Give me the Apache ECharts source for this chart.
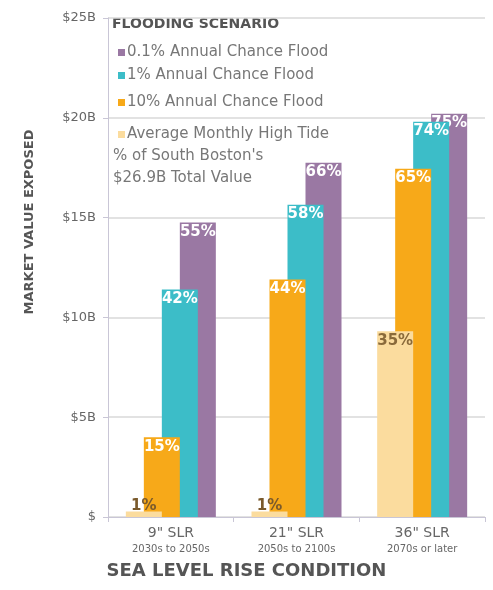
<!DOCTYPE html>
<html>
<head>
<meta charset="utf-8">
<script src="https://cdn.jsdelivr.net/npm/echarts@6/dist/echarts.min.js"></script>
<style>
  html, body { margin: 0; padding: 0; background: #fff; }
  #chart { width: 493px; height: 590px; }
</style>
</head>
<body>
<div id="chart"></div>
<script>
// sea level rise conditions (x axis)
const conditions = ['9" SLR', '21" SLR', '36" SLR'];
const periods = ['2030s to 2050s', '2050s to 2100s', '2070s or later'];

// market value exposed, $B
const tideValues = [0.27, 0.27, 9.3];
const flood10Values = [4.0, 11.9, 17.45];
const flood1Values = [11.4, 15.65, 19.8];
const flood01Values = [14.75, 17.75, 20.2];

// % of South Boston's $26.9B total value
const tidePct = ['1%', '1%', '35%'];
const flood10Pct = ['15%', '44%', '65%'];
const flood1Pct = ['42%', '58%', '74%'];
const flood01Pct = ['55%', '66%', '75%'];

const yTicks = [0, 5, 10, 15, 20, 25];

const FONT = '"DejaVu Sans", sans-serif';
const GRAY = '#666';

const chart = echarts.init(document.getElementById('chart'));

// one bar series; labels inside top, unless bar is tiny
const makeSeries = (name, values, pcts, color, z, labelColor) => ({
  name,
  type: 'bar',
  data: values.map((v, i) => ({
    value: v,
    label: {
      show: true,
      formatter: pcts[i],
      position: v < 2 ? 'top' : 'insideTop',
      distance: v < 2 ? -2 : 2,
      color: v < 2 ? '#7a5a2c' : labelColor,
    },
  })),
  barWidth: 36,
  barGap: '-50%',
  z,
  itemStyle: { color },
  label: { fontFamily: FONT, fontSize: 15, fontWeight: 'bold' },
});

const legendItem = (name, top) => ({
  data: [name],
  left: 113,
  top,
  orient: 'vertical',
  itemWidth: 7,
  itemHeight: 7,
  icon: 'rect',
  itemGap: 0,
  selectedMode: false,
  textStyle: { fontFamily: FONT, fontSize: 15, color: '#777', padding: [0, 0, 0, -3] },
});

chart.setOption({
  animation: false,
  grid: { left: 108, right: 8, top: 18, bottom: 73 },
  legend: [
    legendItem('0.1% Annual Chance Flood', 40),
    legendItem('1% Annual Chance Flood', 63),
    legendItem('10% Annual Chance Flood', 90),
    legendItem('Average Monthly High Tide', 122),
  ],
  graphic: [
    {
      type: 'text', left: 112, top: 17,
      style: { text: 'FLOODING SCENARIO', font: 'bold 14px ' + FONT, fill: '#555' },
    },
    {
      type: 'text', left: 113, top: 145,
      style: {
        text: "% of South Boston's\n$26.9B Total Value",
        font: '15px ' + FONT, fill: '#777', lineHeight: 22,
      },
    },
    {
      type: 'text', x: 30, y: 222, rotation: Math.PI / 2,
      style: {
        text: 'MARKET VALUE EXPOSED', font: 'bold 13px ' + FONT,
        fill: '#555', align: 'center', verticalAlign: 'middle',
      },
    },
    {
      type: 'text', left: 'center', top: 562,
      style: { text: 'SEA LEVEL RISE CONDITION', font: 'bold 18px ' + FONT, fill: '#555' },
    },
  ],
  xAxis: {
    type: 'category',
    data: conditions,
    axisLine: { lineStyle: { color: '#c9c6d6' } },
    axisTick: { show: true, length: 5, lineStyle: { color: '#c9c6d6' } },
    axisLabel: {
      interval: 0,
      margin: 8,
      formatter: (v, i) => '{a|' + v + '}\n{b|' + periods[i] + '}',
      rich: {
        a: { fontFamily: FONT, fontSize: 14, color: GRAY, lineHeight: 17 },
        b: { fontFamily: FONT, fontSize: 10, color: GRAY, lineHeight: 14 },
      },
    },
  },
  yAxis: {
    type: 'value',
    min: yTicks[0],
    max: yTicks[yTicks.length - 1],
    interval: 5,
    axisLine: { show: true, lineStyle: { color: '#c9c6d6' } },
    axisTick: { show: true, length: 5, lineStyle: { color: '#c9c6d6' } },
    splitLine: { lineStyle: { color: '#d8d8d8', width: 1.5 } },
    axisLabel: {
      margin: 12,
      fontFamily: FONT,
      fontSize: 13,
      color: GRAY,
      formatter: (v) => (v === 0 ? '$' : '$' + v + 'B'),
    },
  },
  series: [
    makeSeries('Average Monthly High Tide', tideValues, tidePct, '#fbdc9e', 4, '#8a6a3a'),
    makeSeries('10% Annual Chance Flood', flood10Values, flood10Pct, '#f7a919', 3, '#fff'),
    makeSeries('1% Annual Chance Flood', flood1Values, flood1Pct, '#3cbdc8', 2, '#fff'),
    makeSeries('0.1% Annual Chance Flood', flood01Values, flood01Pct, '#9a78a3', 1, '#fff'),
  ],
});
</script>
</body>
</html>
